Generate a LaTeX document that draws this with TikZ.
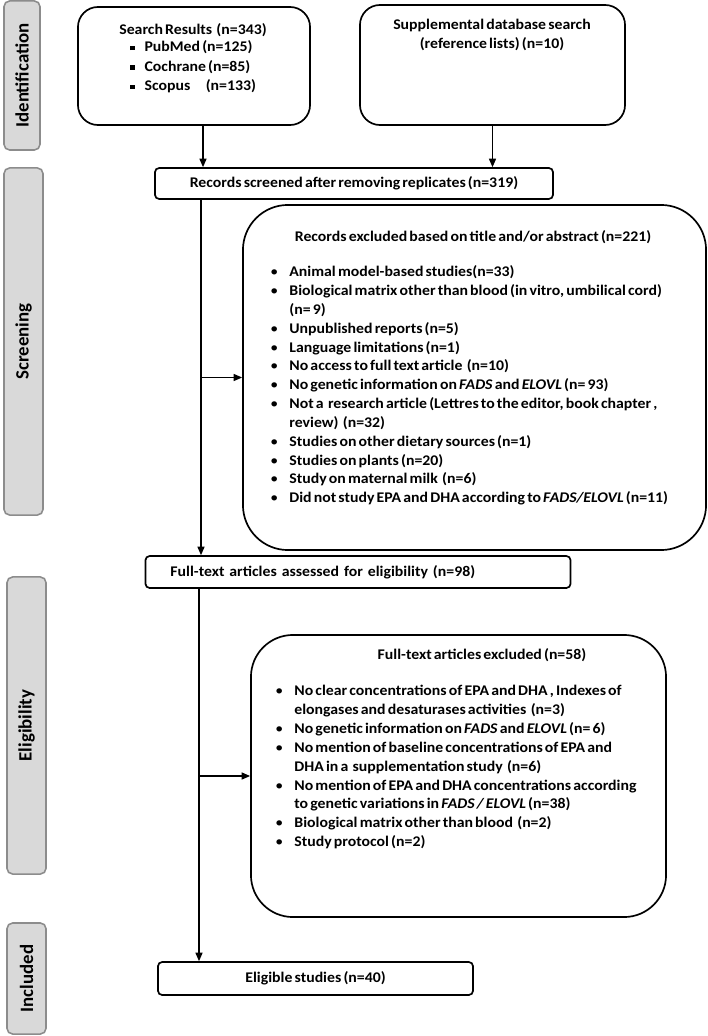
\documentclass[tikz,border=0pt]{standalone}
\usepackage{fontspec}
\setmainfont{Carlito}[WordSpace=0.6,FakeStretch=1.07]
\newfontfamily\phasefont{Carlito}
\usetikzlibrary{positioning,arrows.meta}

\newcommand{\sqbul}{\rule[0.25ex]{0.3em}{0.3em}}
\newcommand{\dotbul}{{\mdseries\textbullet}}

\begin{document}
\begin{tikzpicture}
[
	x=0.025cm, y=-0.025cm,
	box/.style={rectangle,draw=black,line width=1.2pt,rounded corners=3pt,inner sep=0pt,font=\bfseries\fontsize{10.5}{13}\selectfont},
	bigbox/.style={rectangle,draw=black,line width=1.2pt,inner sep=0pt},
	phase/.style={rectangle,draw=black!45,fill=gray!30,line width=1.1pt,rounded corners=4pt,rotate=90,font=\phasefont\bfseries\fontsize{13.4}{15}\selectfont},
	txt/.style={inner sep=0pt,font=\bfseries\fontsize{10.5}{13.4}\selectfont},
	arr/.style={-{Triangle[length=6pt,width=5pt]},line width=0.9pt},
]
	\useasboundingbox (0,0) rectangle (708,1036);

	\begin{scope}
		\node[phase,minimum width=3.725cm,minimum height=0.9cm] (idlab) at (22,75.5) {Identification};
		\node[phase,minimum width=8.675cm,minimum height=0.975cm] (scrlab) at (23.5,341.5) {Screening};
		\node[phase,minimum width=7.425cm,minimum height=0.975cm] (elilab) at (26.5,725.5) {Eligibility};
		\node[phase,minimum width=2.775cm,minimum height=0.975cm] (inclab) at (26.5,978.5) {Included};
	\end{scope}

	\begin{scope}
		\node[bigbox,rounded corners=0.5cm,minimum width=5.8cm,minimum height=2.95cm] (search) at (194,66) {};
		\node[txt] (searchtitle) at (193,30) {Search Results\ \ (n=343)};
		\node[txt,anchor=west,font=\bfseries\fontsize{10.5}{13.8}\selectfont] (searchlist) at (130,67.5) {%
			\begin{tabular}{@{}l@{\hspace{7pt}}l@{}}
				\sqbul & PubMed (n=125)\\
				\sqbul & Cochrane (n=85)\\
				\sqbul & Scopus\hspace{11pt}(n=133)
			\end{tabular}};

		\node[bigbox,rounded corners=0.5cm,minimum width=6.625cm,minimum height=3cm] (supp) at (492.5,65) {};
		\node[txt,align=center,font=\bfseries\fontsize{10.5}{14}\selectfont] (supptext) at (492,35) {Supplemental database search\\(reference lists) (n=10)};
	\end{scope}

	\begin{scope}
		\node[box,minimum width=9.95cm,minimum height=0.775cm] (records) at (354,183.5) {Records screened after removing replicates (n=319)};

		\node[bigbox,rounded corners=1.125cm,minimum width=11.575cm,minimum height=8.625cm] (scrx) at (474.5,377.5) {};
		\node[txt] (scrxtitle) at (473,237) {Records excluded based on title and/or abstract (n=221)};
		\node[txt,anchor=west] (scrxlist) at (270,386) {%
			\begin{tabular}{@{}l@{\hspace{8pt}}l@{}}
				\dotbul & Animal model-based studies(n=33)\\
				\dotbul & Biological matrix other than blood (in vitro, umbilical cord)\\
				 & (n= 9)\\
				\dotbul & Unpublished reports (n=5)\\
				\dotbul & Language limitations (n=1)\\
				\dotbul & No access to full text article\ \ (n=10)\\
				\dotbul & No genetic information on \textit{FADS} and \textit{ELOVL} (n= 93)\\
				\dotbul & Not a\ \ research article (Lettres to the editor, book chapter ,\\
				 & review)\ \ (n=32)\\
				\dotbul & Studies on other dietary sources (n=1)\\
				\dotbul & Studies on plants (n=20)\\
				\dotbul & Study on maternal milk\ \ (n=6)\\
				\dotbul & Did not study EPA and DHA according to \textit{FADS/ELOVL} (n=11)
			\end{tabular}};
	\end{scope}

	\begin{scope}
		\node[box,minimum width=10cm,minimum height=0.8cm,text width=9.375cm,align=left,inner xsep=0.625cm] (fulltext) at (358,572) {Full-text articles assessed for eligibility (n=98)};

		\node[bigbox,rounded corners=1.05cm,minimum width=10.375cm,minimum height=7.05cm] (elix) at (458.5,776) {};
		\node[txt] (elixtitle) at (482,655) {Full-text articles excluded (n=58)};
		\node[txt,anchor=west] (elixlist) at (275,767.5) {%
			\begin{tabular}{@{}l@{\hspace{8pt}}l@{}}
				\dotbul & No clear concentrations of EPA and DHA , Indexes of\\
				 & elongases and desaturases activities\ \ (n=3)\\
				\dotbul & No genetic information on \textit{FADS} and \textit{ELOVL} (n= 6)\\
				\dotbul & No mention of baseline concentrations of EPA and\\
				 & DHA in a\ \ supplementation study\ \ (n=6)\\
				\dotbul & No mention of EPA and DHA concentrations according\\
				 & to genetic variations in \textit{FADS / ELOVL} (n=38)\\
				\dotbul & Biological matrix other than blood\ \ (n=2)\\
				\dotbul & Study protocol (n=2)
			\end{tabular}};

		\node[box,minimum width=7.875cm,minimum height=0.825cm] (eligible) at (315.5,978.5) {Eligible studies (n=40)};
	\end{scope}

	\coordinate (v0) at (203,0);
	\coordinate (v1) at (201,0);
	\coordinate (v2) at (199,0);

	\draw[arr] (search.south -| v0) -- (records.north -| v0);
	\draw[arr] (supp.south) -- (records.north -| supp.south);
	\draw[arr] (records.south -| v1) -- (fulltext.north -| v1);
	\draw[arr] (scrx.west -| v1) -- (scrx.west);
	\draw[arr] (fulltext.south -| v2) -- (eligible.north -| v2);
	\draw[arr] (elix.west -| v2) -- (elix.west);
\end{tikzpicture}
\end{document}
